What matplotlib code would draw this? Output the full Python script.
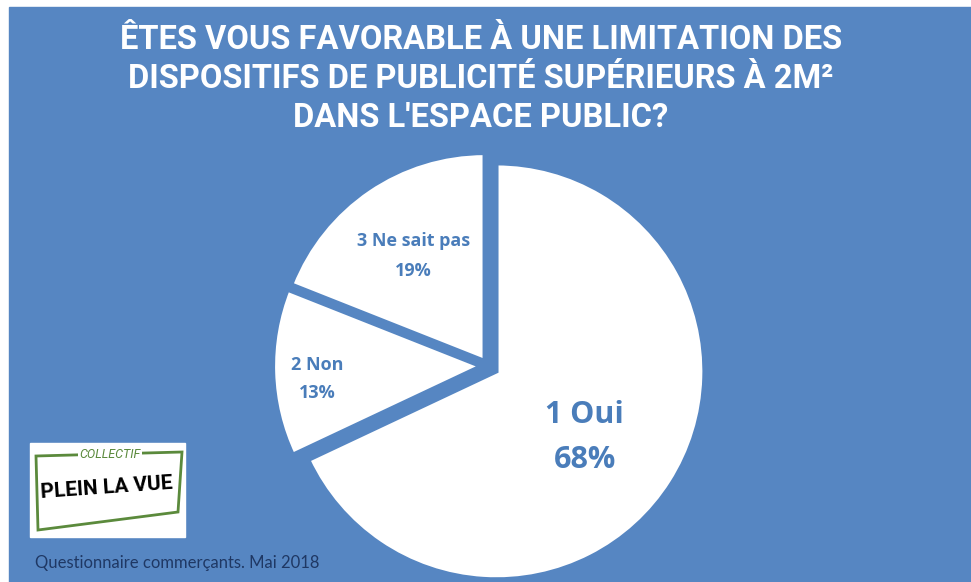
import numpy as np
import matplotlib.pyplot as plt
from matplotlib.patches import Rectangle, Polygon

# Données du sondage
categories = ["1 Oui", "2 Non", "3 Ne sait pas"]
valeurs = [68, 13, 19]
pourcentages = ["68%", "13%", "19%"]

titre = ["ÊTES VOUS FAVORABLE À UNE LIMITATION DES",
         "DISPOSITIFS DE PUBLICITÉ SUPÉRIEURS À 2M²",
         "DANS L'ESPACE PUBLIC?"]
source = "Questionnaire commerçants. Mai 2018"

bleu = "#5686C2"
bleu_texte = "#4A7DBA"
vert = "#5B8A3C"

W, H = 971, 582
fig = plt.figure(figsize=(W / 100, H / 100), dpi=100)
fig.patch.set_facecolor("white")
ax = fig.add_axes([0, 0, 1, 1])

# fond bleu
ax.add_patch(Rectangle((9, 0), W - 9, H - 7, color=bleu, zorder=0))

# camembert (explode en pixels)
cx, cy, r = 488, H - 366, 208
ax.pie(valeurs, startangle=90, counterclock=False,
       center=(cx, cy), radius=r, explode=[10, 7, 6],
       colors=["white"] * 3, frame=True,
       wedgeprops=dict(edgecolor=bleu, linewidth=3))
ax.set_xlim(0, W)
ax.set_ylim(0, H)
ax.axis("off")

# étiquettes
distances = [0.55, 0.82, 0.64]
tailles = [22, 13, 13]
ecarts = [45, 28, 30]
decalages = [-10, -8, 0]
cumul = np.cumsum([0] + valeurs)
for i, (cat, pc) in enumerate(zip(categories, pourcentages)):
    angle = np.deg2rad(90 - 3.6 * (cumul[i] + valeurs[i] / 2))
    x = cx + distances[i] * r * np.cos(angle)
    y = cy + distances[i] * r * np.sin(angle) + decalages[i]
    ax.text(x, y + ecarts[i] / 2, cat, ha="center", va="center",
            fontsize=tailles[i], fontweight="bold", color=bleu_texte,
            family="Open Sans")
    ax.text(x, y - ecarts[i] / 2, pc, ha="center", va="center",
            fontsize=tailles[i], fontweight="bold", color=bleu_texte,
            family="Open Sans")

# titre
for k, ligne in enumerate(titre):
    ax.text(481, H - 40 - 39 * k, ligne, ha="center", va="center", color="white",
            fontsize=23.5, fontweight="bold", family="Roboto")

# logo
ax.add_patch(Rectangle((30, H - 537), 155, 94, color="white", zorder=3))
ax.add_patch(Polygon([(36, H - 456), (182, H - 452), (178, H - 512), (38, H - 530)],
                     closed=True, fill=False, edgecolor=vert, lw=2, zorder=4))
ax.text(110, H - 454, "COLLECTIF", ha="center", va="center", color=vert,
        fontsize=9, style="italic", family="Roboto", zorder=5,
        bbox=dict(facecolor="white", edgecolor="none", pad=1))
ax.text(107, H - 488, "PLEIN LA VUE", ha="center", va="center", color="black",
        fontsize=15, fontweight="bold", family="Roboto", rotation=4, zorder=5)

# source
ax.text(35, H - 563, source, ha="left", va="center", color="#1F3864",
        fontsize=12, family="Lato")

plt.savefig("out.png", dpi=100)
